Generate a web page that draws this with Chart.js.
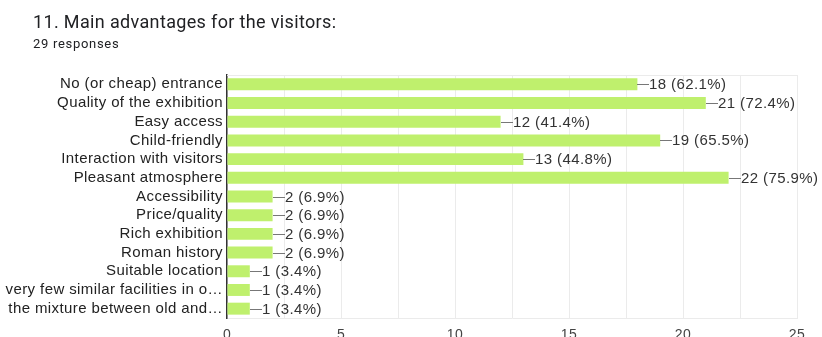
<!DOCTYPE html>
<html>
<head>
<meta charset="utf-8">
<script src="https://cdn.jsdelivr.net/npm/chart.js@4.4.1/dist/chart.umd.min.js"></script>
<style>
  html, body { margin: 0; padding: 0; background: #fff; overflow: hidden; }
  #wrap { position: relative; width: 822px; height: 350px; }
</style>
</head>
<body>
<div id="wrap"><canvas id="chart"></canvas></div>
<script>
// Survey question 11 - answers and counts
const categories = [
    'No (or cheap) entrance',
    'Quality of the exhibition',
    'Easy access',
    'Child-friendly',
    'Interaction with visitors',
    'Pleasant atmosphere',
    'Accessibility',
    'Price/quality',
    'Rich exhibition',
    'Roman history',
    'Suitable location',
    'very few similar facilities in o\u2026',
    'the mixture between old and\u2026'
];
const counts = [18, 21, 12, 19, 13, 22, 2, 2, 2, 2, 1, 1, 1];
const percents = ['62.1%', '72.4%', '41.4%', '65.5%', '44.8%', '75.9%', '6.9%', '6.9%', '6.9%', '6.9%', '3.4%', '3.4%', '3.4%'];
const totalResponses = 29;
const axisTicks = [0, 5, 10, 15, 20, 25];

const questionTitle = '11. Main advantages for the visitors:';

const LABEL_FONT = '"Liberation Sans", Arial, sans-serif';
const TITLE_FONT = 'Roboto, "Noto Sans", sans-serif';

// slightly looser tracking for the axis labels
const tracking = {
    id: 'tracking',
    beforeDraw(chart) {
        chart.ctx.letterSpacing = '0.4px';
    }
};

// question heading and response count above the plot
const heading = {
    id: 'heading',
    afterDraw(chart) {
        const ctx = chart.ctx;
        ctx.save();
        ctx.textAlign = 'left';
        ctx.textBaseline = 'alphabetic';
        ctx.fillStyle = '#202124';
        ctx.font = '18px ' + TITLE_FONT;
        ctx.letterSpacing = '0.35px';
        ctx.fillText(questionTitle, 33, 28);
        ctx.font = '13px ' + TITLE_FONT;
        ctx.letterSpacing = '0.7px';
        ctx.fillText(`${totalResponses} responses`, 33, 48);
        ctx.restore();
    }
};

// Leader line + "n (p%)" text after each bar
const valueLabels = {
    id: 'valueLabels',
    afterDatasetsDraw(chart) {
        const ctx = chart.ctx;
        const meta = chart.getDatasetMeta(0);
        ctx.save();
        ctx.font = '15px ' + LABEL_FONT;
        ctx.letterSpacing = '0.4px';
        ctx.textBaseline = 'middle';
        ctx.textAlign = 'left';
        meta.data.forEach((bar, i) => {
            const x = Math.round(bar.x);
            const y = Math.round(bar.y) + 0.5;
            ctx.strokeStyle = '#777';
            ctx.lineWidth = 1;
            ctx.beginPath();
            ctx.moveTo(x, y);
            ctx.lineTo(x + 12, y);
            ctx.stroke();
            ctx.fillStyle = '#333';
            ctx.fillText(`${counts[i]} (${percents[i]})`, x + 12, y);
        });
        ctx.restore();
    }
};

// light frame line along the top of the plot
const topBorder = {
    id: 'topBorder',
    beforeDatasetsDraw(chart) {
        const { ctx, chartArea } = chart;
        ctx.save();
        ctx.strokeStyle = '#ebebeb';
        ctx.lineWidth = 1;
        ctx.beginPath();
        ctx.moveTo(chartArea.left, chartArea.top + 0.5);
        ctx.lineTo(chartArea.right, chartArea.top + 0.5);
        ctx.stroke();
        ctx.restore();
    }
};

const ctx = document.getElementById('chart').getContext('2d');

new Chart(ctx, {
    type: 'bar',
    data: {
        labels: categories,
        datasets: [{
            data: counts,
            backgroundColor: '#bff06d',
            borderWidth: 0,
            barPercentage: 0.64,
            categoryPercentage: 1
        }]
    },
    options: {
        indexAxis: 'y',
        responsive: true,
        maintainAspectRatio: false,
        animation: false,
        layout: { padding: { left: 0, right: 25, top: 75, bottom: 0 } },
        plugins: {
            legend: { display: false },
            tooltip: { enabled: false },
            title: { display: false },
            subtitle: { display: false }
        },
        scales: {
            x: {
                min: 0,
                max: 25,
                ticks: {
                    stepSize: 2.5,
                    padding: 9,
                    color: '#444',
                    font: { family: LABEL_FONT, size: 14 },
                    callback: v => axisTicks.includes(v) ? v : ''
                },
                grid: { color: '#ebebeb', drawTicks: false },
                border: { display: true, color: '#ebebeb' },
                afterFit(scale) { scale.height = 32; }
            },
            y: {
                ticks: {
                    padding: 4,
                    color: '#222',
                    font: { family: LABEL_FONT, size: 15 },
                    autoSkip: false
                },
                grid: { display: false, drawTicks: false },
                border: { display: true, color: '#333', width: 1.5 },
                afterFit(scale) { scale.width = 227; }
            }
        }
    },
    plugins: [tracking, heading, valueLabels, topBorder]
});
</script>
</body>
</html>
